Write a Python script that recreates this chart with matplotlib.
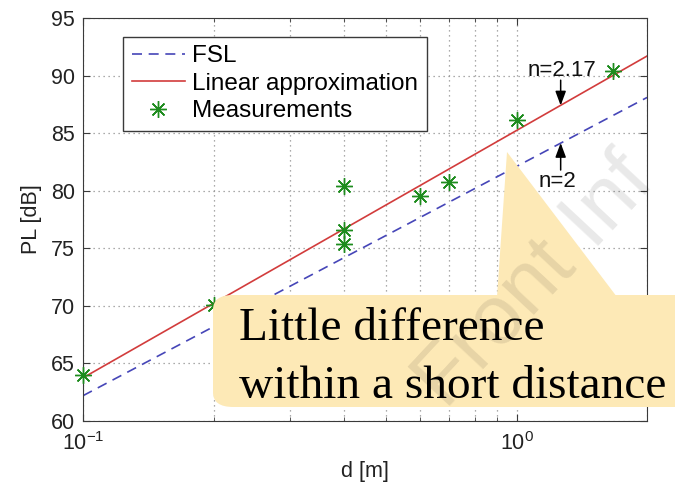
import matplotlib.pyplot as plt
import matplotlib.ticker as mticker
from matplotlib.patches import FancyBboxPatch, Polygon

plt.rcParams['font.family'] = ['Liberation Sans', 'DejaVu Sans']

# data
d_meas = [0.1, 0.2, 0.4, 0.4, 0.4, 0.6, 0.7, 1.0, 1.67]
pl_meas = [64.0, 70.05, 80.45, 76.6, 75.4, 79.55, 80.8, 86.15, 90.4]

d_line = [0.1, 2.0]
pl_fsl = [62.2, 88.1]       # free space loss, n=2
pl_fit = [63.75, 91.7]      # linear approximation, n=2.17

yticks = [60, 65, 70, 75, 80, 85, 90, 95]

fig = plt.figure(figsize=(6.75, 4.87), dpi=100)
ax = fig.add_axes([0.123, 0.1355, 0.8356, 0.8275])

ax.plot(d_line, pl_fsl, color='#4646b8', lw=1.2, dashes=(6, 4), label='FSL')
ax.plot(d_line, pl_fit, color='#d23c3c', lw=1.2, label='Linear approximation')
ax.plot(d_meas, pl_meas, ls='none', marker=(8, 2, 0), ms=12, mew=1.0,
        color='#1e8c1e', label='Measurements', clip_on=False, zorder=5)

ax.set_xscale('log')
ax.set_xlim(0.1, 2)
ax.set_ylim(60, 95)
ax.set_yticks(yticks)
ax.xaxis.set_minor_formatter(mticker.NullFormatter())
ax.grid(True, which='both', color='#909090', linestyle=(0, (1, 3)), lw=0.9)
ax.tick_params(which='both', direction='in', top=True, right=True,
               labelsize=15.5, colors='#3a3a3a', labelcolor='#222222')
ax.tick_params(axis='y', pad=6)
ax.tick_params(axis='x', pad=8)
ax.tick_params(which='major', length=5)
ax.tick_params(which='minor', length=3)
for s in ax.spines.values():
    s.set_color('#3a3a3a')

ax.set_xlabel('d [m]', fontsize=15.5, color='#222222', labelpad=4)
ax.set_ylabel('PL [dB]', fontsize=15.5, color='#222222', labelpad=6)

leg = ax.legend(loc='upper left', bbox_to_anchor=(0.071, 0.953), fontsize=17.5,
                fancybox=False, framealpha=1, edgecolor='#3a3a3a',
                handlelength=2.2, handletextpad=0.3, labelspacing=0.22,
                borderpad=0.35, borderaxespad=0)
leg.get_frame().set_linewidth(1.0)

# n annotations
arrow = dict(arrowstyle='-|>,head_length=0.86,head_width=0.32', color='k',
             lw=1.1, shrinkA=0, shrinkB=0, mutation_scale=10)
ax.annotate('', xy=(1.264, 87.4), xytext=(1.264, 89.6), arrowprops=arrow)
ax.text(1.06, 89.95, 'n=2.17', fontsize=16, ha='left', va='baseline', color='#111111')
ax.annotate('', xy=(1.264, 84.15), xytext=(1.264, 81.8), arrowprops=arrow)
ax.text(1.244, 80.3, 'n=2', fontsize=16, ha='center', va='baseline', color='#111111')

# callout box
W, H = 675.0, 487.0
box_col = '#fde9b6'
box = FancyBboxPatch((213 / W, 1 - 407 / H), 520 / W, 112 / H,
                     boxstyle='round,pad=0,rounding_size=0.03',
                     transform=fig.transFigure, facecolor=box_col,
                     edgecolor='none', zorder=10)
fig.patches.append(box)
tip = Polygon([(497 / W, 1 - 297 / H), (507 / W, 1 - 152 / H), (617 / W, 1 - 297 / H)],
              closed=True, transform=fig.transFigure, facecolor=box_col,
              edgecolor='none', zorder=10)
fig.patches.append(tip)

fig.text(239 / W, 1 - 340 / H, 'Little difference', fontsize=34,
         family='Liberation Serif', ha='left', va='baseline', zorder=11)
fig.text(239 / W, 1 - 398 / H, 'within a short distance', fontsize=34,
         family='Liberation Serif', ha='left', va='baseline', zorder=11)

# watermark
fig.text(445 / W, 1 - 410 / H, 'Front Inf', fontsize=60, rotation=47,
         rotation_mode='anchor', ha='left', va='baseline', color='black',
         alpha=0.09, zorder=12)

fig.savefig('out.png', dpi=100)
